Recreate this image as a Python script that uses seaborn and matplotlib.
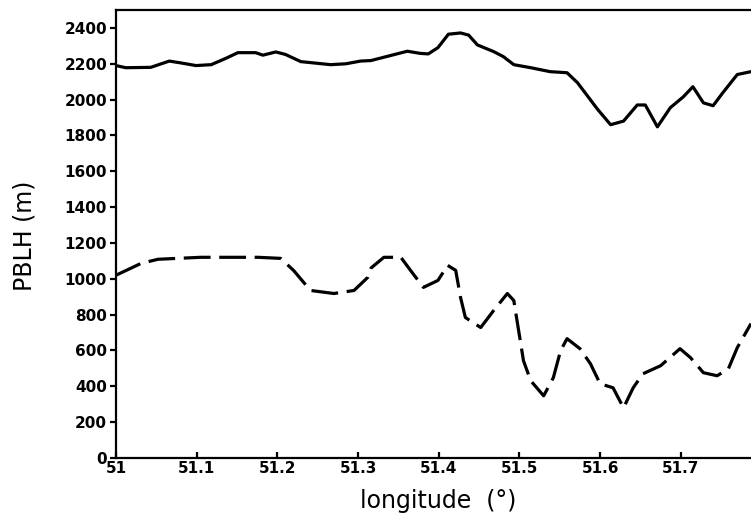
import numpy as np
import pandas as pd
import matplotlib
matplotlib.use("Agg")
import matplotlib.pyplot as plt
import seaborn as sns

# Upper (solid) PBLH profile along longitude
lon_upper = [51.000, 51.012, 51.043, 51.066, 51.080, 51.099, 51.118, 51.136, 51.151,
             51.173, 51.182, 51.198, 51.210, 51.229, 51.266, 51.285, 51.303, 51.316,
             51.361, 51.377, 51.387, 51.399, 51.412, 51.427, 51.437, 51.448, 51.468,
             51.480, 51.493, 51.514, 51.538, 51.559, 51.572, 51.597, 51.613, 51.629,
             51.646, 51.656, 51.671, 51.687, 51.703, 51.715, 51.728, 51.740, 51.752,
             51.770, 51.787]
pblh_upper = [2190, 2178, 2180, 2215, 2205, 2190, 2195, 2230, 2262,
              2262, 2248, 2266, 2252, 2212, 2195, 2200, 2215, 2218,
              2270, 2258, 2255, 2290, 2365, 2372, 2360, 2305, 2268,
              2240, 2195, 2178, 2156, 2150, 2094, 1945, 1860, 1880,
              1970, 1970, 1848, 1955, 2015, 2072, 1982, 1966, 2038,
              2140, 2156]

# Lower (dashed) PBLH profile along longitude
lon_lower = [51.000, 51.031, 51.052, 51.105, 51.176, 51.204, 51.220, 51.241, 51.270,
             51.295, 51.312, 51.316, 51.332, 51.353, 51.365, 51.381, 51.399, 51.411,
             51.421, 51.427, 51.433, 51.452, 51.468, 51.485, 51.493, 51.499, 51.505,
             51.514, 51.530, 51.542, 51.551, 51.559, 51.575, 51.588, 51.600, 51.616,
             51.629, 51.641, 51.653, 51.675, 51.699, 51.712, 51.728, 51.745, 51.759,
             51.770, 51.787]
pblh_lower = [1020, 1086, 1109, 1120, 1120, 1114, 1047, 935, 918,
              935, 1008, 1060, 1120, 1120, 1047, 952, 991, 1075,
              1047, 896, 784, 728, 823, 918, 879, 711, 543,
              431, 347, 448, 599, 666, 610, 526, 414, 392,
              280, 392, 470, 515, 610, 560, 476, 459, 498,
              616, 750]

x_ticks = [51, 51.1, 51.2, 51.3, 51.4, 51.5, 51.6, 51.7]
x_ticklabels = ["51", "51.1", "51.2", "51.3", "51.4", "51.5", "51.6", "51.7"]
y_ticks = list(range(0, 2401, 200))

df = pd.concat([
    pd.DataFrame({"lon": lon_upper, "pblh": pblh_upper, "profile": "upper"}),
    pd.DataFrame({"lon": lon_lower, "pblh": pblh_lower, "profile": "lower"}),
], ignore_index=True)

sns.set_style("white")
plt.rcParams["font.family"] = ["DejaVu Sans"]
plt.rcParams["text.color"] = "black"
plt.rcParams["axes.labelcolor"] = "black"
plt.rcParams["xtick.color"] = "black"
plt.rcParams["ytick.color"] = "black"

fig = plt.figure(figsize=(7.51, 5.16), dpi=100)
ax = fig.add_axes([0.1545, 0.1124, 0.8455, 0.8682])

sns.lineplot(data=df, x="lon", y="pblh", style="profile",
             dashes={"upper": "", "lower": (8.4, 2.7)},
             color="black", linewidth=2.3, estimator=None, sort=False,
             legend=False, ax=ax)
for line in ax.lines:
    line.set_dash_capstyle("butt")
    line.set_solid_capstyle("round")
    line.set_solid_joinstyle("round")

ax.set_xlim(51, 51.787)
ax.set_ylim(0, 2500)
ax.set_xticks(x_ticks)
ax.set_xticklabels(x_ticklabels)
ax.set_yticks(y_ticks)

for side in ["left", "bottom", "top"]:
    ax.spines[side].set_linewidth(1.6)
    ax.spines[side].set_color("black")
ax.spines["right"].set_visible(False)

ax.tick_params(axis="x", direction="in", length=4, width=1.6, pad=2,
               labelsize=11, bottom=True, top=False)
ax.tick_params(axis="y", direction="out", length=4.5, width=1.6, pad=2,
               labelsize=11, left=True, right=False)
for lbl in ax.get_xticklabels() + ax.get_yticklabels():
    lbl.set_fontweight("bold")

ax.set_xlabel("longitude  (°)", fontsize=17)
ax.set_ylabel("PBLH (m)", fontsize=17)
ax.xaxis.set_label_coords(0.508, -0.070)
ax.yaxis.set_label_coords(-0.126, 0.497)

fig.savefig("out.png", dpi=100)
